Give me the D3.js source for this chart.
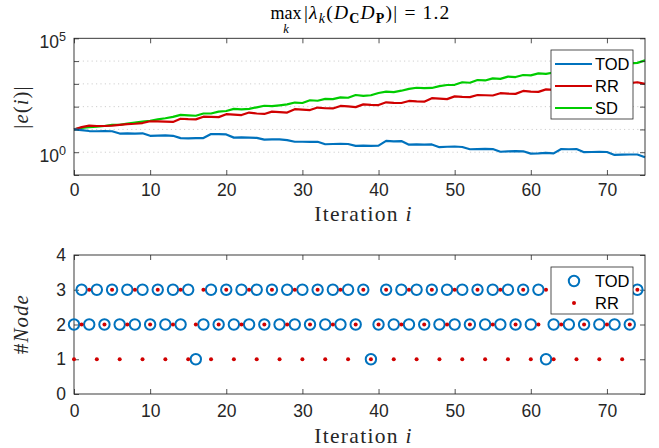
<!DOCTYPE html>
<html><head><meta charset="utf-8">
<script src="https://cdn.jsdelivr.net/npm/d3@7"></script>
<style>body{margin:0;background:#fff}svg{display:block}</style>
</head><body>
<svg id="c" width="659" height="448"></svg>
<script>
// ---------- data ----------
const seriesNames = ["TOD", "RR", "SD"];
const seriesColors = ["#0072BD", "#D00000", "#00CC00"];
// log10 of |e(i)| for i = 0..75
const todLog10 = [1.00,0.97,0.93,0.92,0.93,0.92,0.82,0.83,0.82,0.83,
  0.72,0.73,0.74,0.72,0.62,0.61,0.62,0.62,0.80,0.79,
  0.78,0.64,0.65,0.64,0.63,0.55,0.56,0.56,0.53,0.46,
  0.46,0.45,0.46,0.35,0.36,0.37,0.36,0.28,0.29,0.28,
  0.29,0.50,0.48,0.49,0.33,0.34,0.33,0.34,0.22,0.24,
  0.25,0.23,0.13,0.14,0.15,0.14,0.02,0.04,0.05,0.04,
  -0.06,-0.05,-0.03,-0.05,0.14,0.13,0.14,0.00,0.01,0.02,
  0.01,-0.12,-0.11,-0.10,-0.10,-0.22];
const rrLog10 = [1.00,1.10,1.17,1.15,1.15,1.17,1.20,1.23,1.25,1.28,
  1.36,1.35,1.34,1.33,1.47,1.45,1.44,1.56,1.55,1.54,
  1.67,1.65,1.63,1.74,1.70,1.68,1.78,1.76,1.74,1.89,
  1.87,1.85,1.96,1.93,1.92,2.03,2.01,1.98,2.10,2.08,
  2.07,2.19,2.17,2.16,2.25,2.23,2.22,2.37,2.35,2.33,
  2.45,2.43,2.42,2.51,2.50,2.49,2.59,2.57,2.56,2.69,
  2.66,2.65,2.76,2.74,2.73,2.82,2.80,2.79,2.88,2.86,
  2.85,2.93,2.92,3.03,3.07,3.00];
const sdLog10 = [1.00,1.07,1.10,1.12,1.15,1.20,1.20,1.26,1.30,1.34,
  1.38,1.44,1.49,1.55,1.64,1.62,1.60,1.70,1.70,1.78,
  1.81,1.90,1.88,1.90,1.97,2.04,2.02,2.06,2.10,2.18,
  2.16,2.28,2.26,2.34,2.33,2.41,2.39,2.51,2.47,2.50,
  2.60,2.66,2.64,2.70,2.78,2.83,2.81,2.82,2.90,2.95,
  2.96,3.07,3.05,3.17,3.15,3.24,3.22,3.32,3.30,3.39,
  3.37,3.46,3.44,3.50,3.55,3.60,3.58,3.66,3.70,3.74,
  3.72,3.80,3.82,3.90,3.92,4.03];
// selected node for i = 0..74
const todNode = [2,3,2,3,2,3,2,3,2,3,2,3,2,3,2,3,
  1,
  2,3,2,3,2,3,2,3,2,3,2,3,2,3,2,3,2,3,2,3,2,3,
  1,
  2,3,2,3,2,3,2,3,2,3,2,3,2,3,2,3,2,3,2,3,2,3,
  1,
  2,3,2,3,2,3,2,3,2,3,2,3];
const rrNode = [1,2,3,1,2,3,1,2,3,1,2,3,1,2,3,1,2,3,1,2,3,1,2,3,1,2,3,
  1,2,3,1,2,3,1,2,3,1,2,3,1,2,3,1,2,3,1,2,3,1,2,3,1,2,3,
  1,2,3,1,2,3,1,2,3,1,2,3,1,2,3,1,2,3,1,2,3];
const xTicks = [0,10,20,30,40,50,60,70];
const yTopTicks = [1e-1,1e0,1e1,1e2,1e3,1e4,1e5];
const yTopLabelled = {1:"0", 100000:"5"};
const yBotTicks = [0,1,2,3,4];
const xLabelText = "Iteration ";
const xLabelVar = "i";

// ---------- drawing ----------
const svg = d3.select("#c");
svg.append("rect").attr("width",659).attr("height",448).attr("fill","#fff");
const AX = "#262626";
const TICKFONT = "'Liberation Sans', Arial, sans-serif";
const SERIF = "'Liberation Serif', 'Times New Roman', serif";
const L = 74, R = 645;
const x = d3.scaleLinear().domain([0,75]).range([L,R]);
const yTop = d3.scaleLog().domain([1e-1,1e5]).range([175,38.3]);
const yBot = d3.scaleLinear().domain([0,4]).range([394,255]);

function styleAxis(g){
  g.select(".domain").remove();
  g.selectAll(".tick line").attr("stroke",AX).attr("stroke-width",0.8);
  g.selectAll(".tick text").attr("fill",AX).attr("font-family",TICKFONT).attr("font-size",17.5);
}

// ===== top panel =====
const topG = svg.append("g");
topG.append("g").selectAll("line").data(yTopTicks.slice(1,6)).join("line")
  .attr("x1",L).attr("x2",R).attr("y1",d=>yTop(d)).attr("y2",d=>yTop(d))
  .attr("stroke","#cfcfcf").attr("stroke-width",1).attr("stroke-dasharray","1.2,3.2");
const seriesData = [todLog10, rrLog10, sdLog10];
const line = d3.line().x((d,i)=>x(i)).y(d=>yTop(Math.pow(10,d)));
topG.append("g").selectAll("path").data([2,1,0]).join("path")
  .attr("d",k=>line(seriesData[k])).attr("fill","none")
  .attr("stroke",k=>seriesColors[k]).attr("stroke-width",2.2).attr("stroke-linejoin","round");
topG.append("g").attr("transform",`translate(0,175)`)
  .call(d3.axisBottom(x).tickValues(xTicks).tickSize(-5).tickPadding(9)).call(styleAxis);
topG.append("g").attr("transform",`translate(0,38.3)`)
  .call(d3.axisTop(x).tickValues(xTicks).tickSize(-5).tickFormat("")).call(styleAxis);
const yl = topG.append("g").attr("transform",`translate(${L},0)`)
  .call(d3.axisLeft(yTop).tickValues(yTopTicks).tickSize(-5).tickPadding(8).tickFormat(()=>"")).call(styleAxis);
yl.selectAll(".tick text").each(function(d){
  const e = yTopLabelled[Math.round(d)];
  if(e===undefined) return;
  const t = d3.select(this).attr("dy","0.55em");
  t.append("tspan").text("10");
  t.append("tspan").attr("dy","-0.6em").attr("font-size","0.72em").text(e);
});
topG.append("g").attr("transform",`translate(${R},0)`)
  .call(d3.axisRight(yTop).tickValues(yTopTicks).tickSize(-5).tickFormat(()=>"")).call(styleAxis);
topG.append("rect").attr("x",L).attr("y",38.3).attr("width",R-L).attr("height",175-38.3)
  .attr("fill","none").attr("stroke",AX).attr("stroke-width",0.9);
const ylab = topG.append("text").attr("transform","translate(28,107) rotate(-90)")
  .attr("text-anchor","middle").attr("font-family",SERIF).attr("font-size",21)
  .attr("letter-spacing",1).attr("fill",AX);
ylab.append("tspan").text("|");
ylab.append("tspan").attr("font-style","italic").text("e");
ylab.append("tspan").text("(");
ylab.append("tspan").attr("font-style","italic").text("i");
ylab.append("tspan").text(")|");
function xlabel(g, yy){
  const t = g.append("text").attr("x",(L+R)/2+4).attr("y",yy).attr("text-anchor","middle")
    .attr("font-family",SERIF).attr("font-size",21.5).attr("letter-spacing",1.3).attr("fill",AX);
  t.append("tspan").text(xLabelText);
  t.append("tspan").attr("font-style","italic").text(xLabelVar);
}
xlabel(topG, 221);
const lg = topG.append("g");
lg.append("rect").attr("x",551).attr("y",50).attr("width",82).attr("height",69)
  .attr("fill","#fff").attr("stroke",AX).attr("stroke-width",0.8);
seriesNames.forEach((n,k)=>{
  const yy = 64 + k*22;
  lg.append("line").attr("x1",555).attr("x2",592).attr("y1",yy).attr("y2",yy)
    .attr("stroke",seriesColors[k]).attr("stroke-width",2.2);
  lg.append("text").attr("x",595).attr("y",yy).attr("dy","0.36em").text(n)
    .attr("font-family",TICKFONT).attr("font-size",16.5).attr("fill","#000");
});
// title
const title = svg.append("g").attr("font-family",SERIF).attr("fill","#000");
title.append("text").attr("x",286).attr("y",19).attr("text-anchor","middle").attr("font-size",18).text("max");
title.append("text").attr("x",286).attr("y",33).attr("text-anchor","middle").attr("font-size",12.5).attr("font-style","italic").text("k");
const tt = title.append("text").attr("x",304).attr("y",19).attr("font-size",19.5).attr("letter-spacing",1.2);
tt.append("tspan").text("|");
tt.append("tspan").attr("font-style","italic").text("λ");
tt.append("tspan").attr("font-style","italic").attr("font-size",14).attr("dy",4).text("k");
tt.append("tspan").attr("dy",-4).text("(");
tt.append("tspan").attr("font-style","italic").text("D");
tt.append("tspan").attr("font-weight","bold").attr("font-size",14).attr("dy",4).text("C");
tt.append("tspan").attr("font-style","italic").attr("dy",-4).text("D");
tt.append("tspan").attr("font-weight","bold").attr("font-size",14).attr("dy",4).text("P");
tt.append("tspan").attr("dy",-4).text(")|");
tt.append("tspan").attr("dx",6).text("=");
tt.append("tspan").attr("dx",6).text("1.2");

// ===== bottom panel =====
const bot = svg.append("g");
bot.append("g").attr("transform",`translate(0,394)`)
  .call(d3.axisBottom(x).tickValues(xTicks).tickSize(-5).tickPadding(11)).call(styleAxis);
bot.append("g").attr("transform",`translate(0,255)`)
  .call(d3.axisTop(x).tickValues(xTicks).tickSize(-5).tickFormat("")).call(styleAxis);
bot.append("g").attr("transform",`translate(${L},0)`)
  .call(d3.axisLeft(yBot).tickValues(yBotTicks).tickSize(-5).tickPadding(8).tickFormat(d3.format("d"))).call(styleAxis);
bot.append("g").attr("transform",`translate(${R},0)`)
  .call(d3.axisRight(yBot).tickValues(yBotTicks).tickSize(-5).tickFormat("")).call(styleAxis);
bot.append("rect").attr("x",L).attr("y",255).attr("width",R-L).attr("height",394-255)
  .attr("fill","none").attr("stroke",AX).attr("stroke-width",0.9);
bot.append("g").selectAll("circle").data(todNode).join("circle")
  .attr("cx",(d,i)=>x(i)).attr("cy",d=>yBot(d)).attr("r",5.2)
  .attr("fill","none").attr("stroke",seriesColors[0]).attr("stroke-width",2);
bot.append("g").selectAll("circle").data(rrNode).join("circle")
  .attr("cx",(d,i)=>x(i)).attr("cy",d=>yBot(d)).attr("r",2)
  .attr("fill",seriesColors[1]);
const yl2 = bot.append("text").attr("transform","translate(28,324) rotate(-90)")
  .attr("text-anchor","middle").attr("font-family",SERIF).attr("font-size",21)
  .attr("letter-spacing",1).attr("fill",AX);
yl2.append("tspan").text("#");
yl2.append("tspan").attr("font-style","italic").text("Node");
xlabel(bot, 443);
const lg2 = bot.append("g");
lg2.append("rect").attr("x",551).attr("y",267).attr("width",82).attr("height",47)
  .attr("fill","#fff").attr("stroke",AX).attr("stroke-width",0.8);
lg2.append("circle").attr("cx",574).attr("cy",281).attr("r",5.2).attr("fill","none")
  .attr("stroke",seriesColors[0]).attr("stroke-width",2);
lg2.append("circle").attr("cx",574).attr("cy",303).attr("r",2).attr("fill",seriesColors[1]);
[["TOD",281],["RR",303]].forEach(([n,yy])=>{
  lg2.append("text").attr("x",595).attr("y",yy).attr("dy","0.36em").text(n)
    .attr("font-family",TICKFONT).attr("font-size",16.5).attr("fill","#000");
});
</script>
</body></html>
